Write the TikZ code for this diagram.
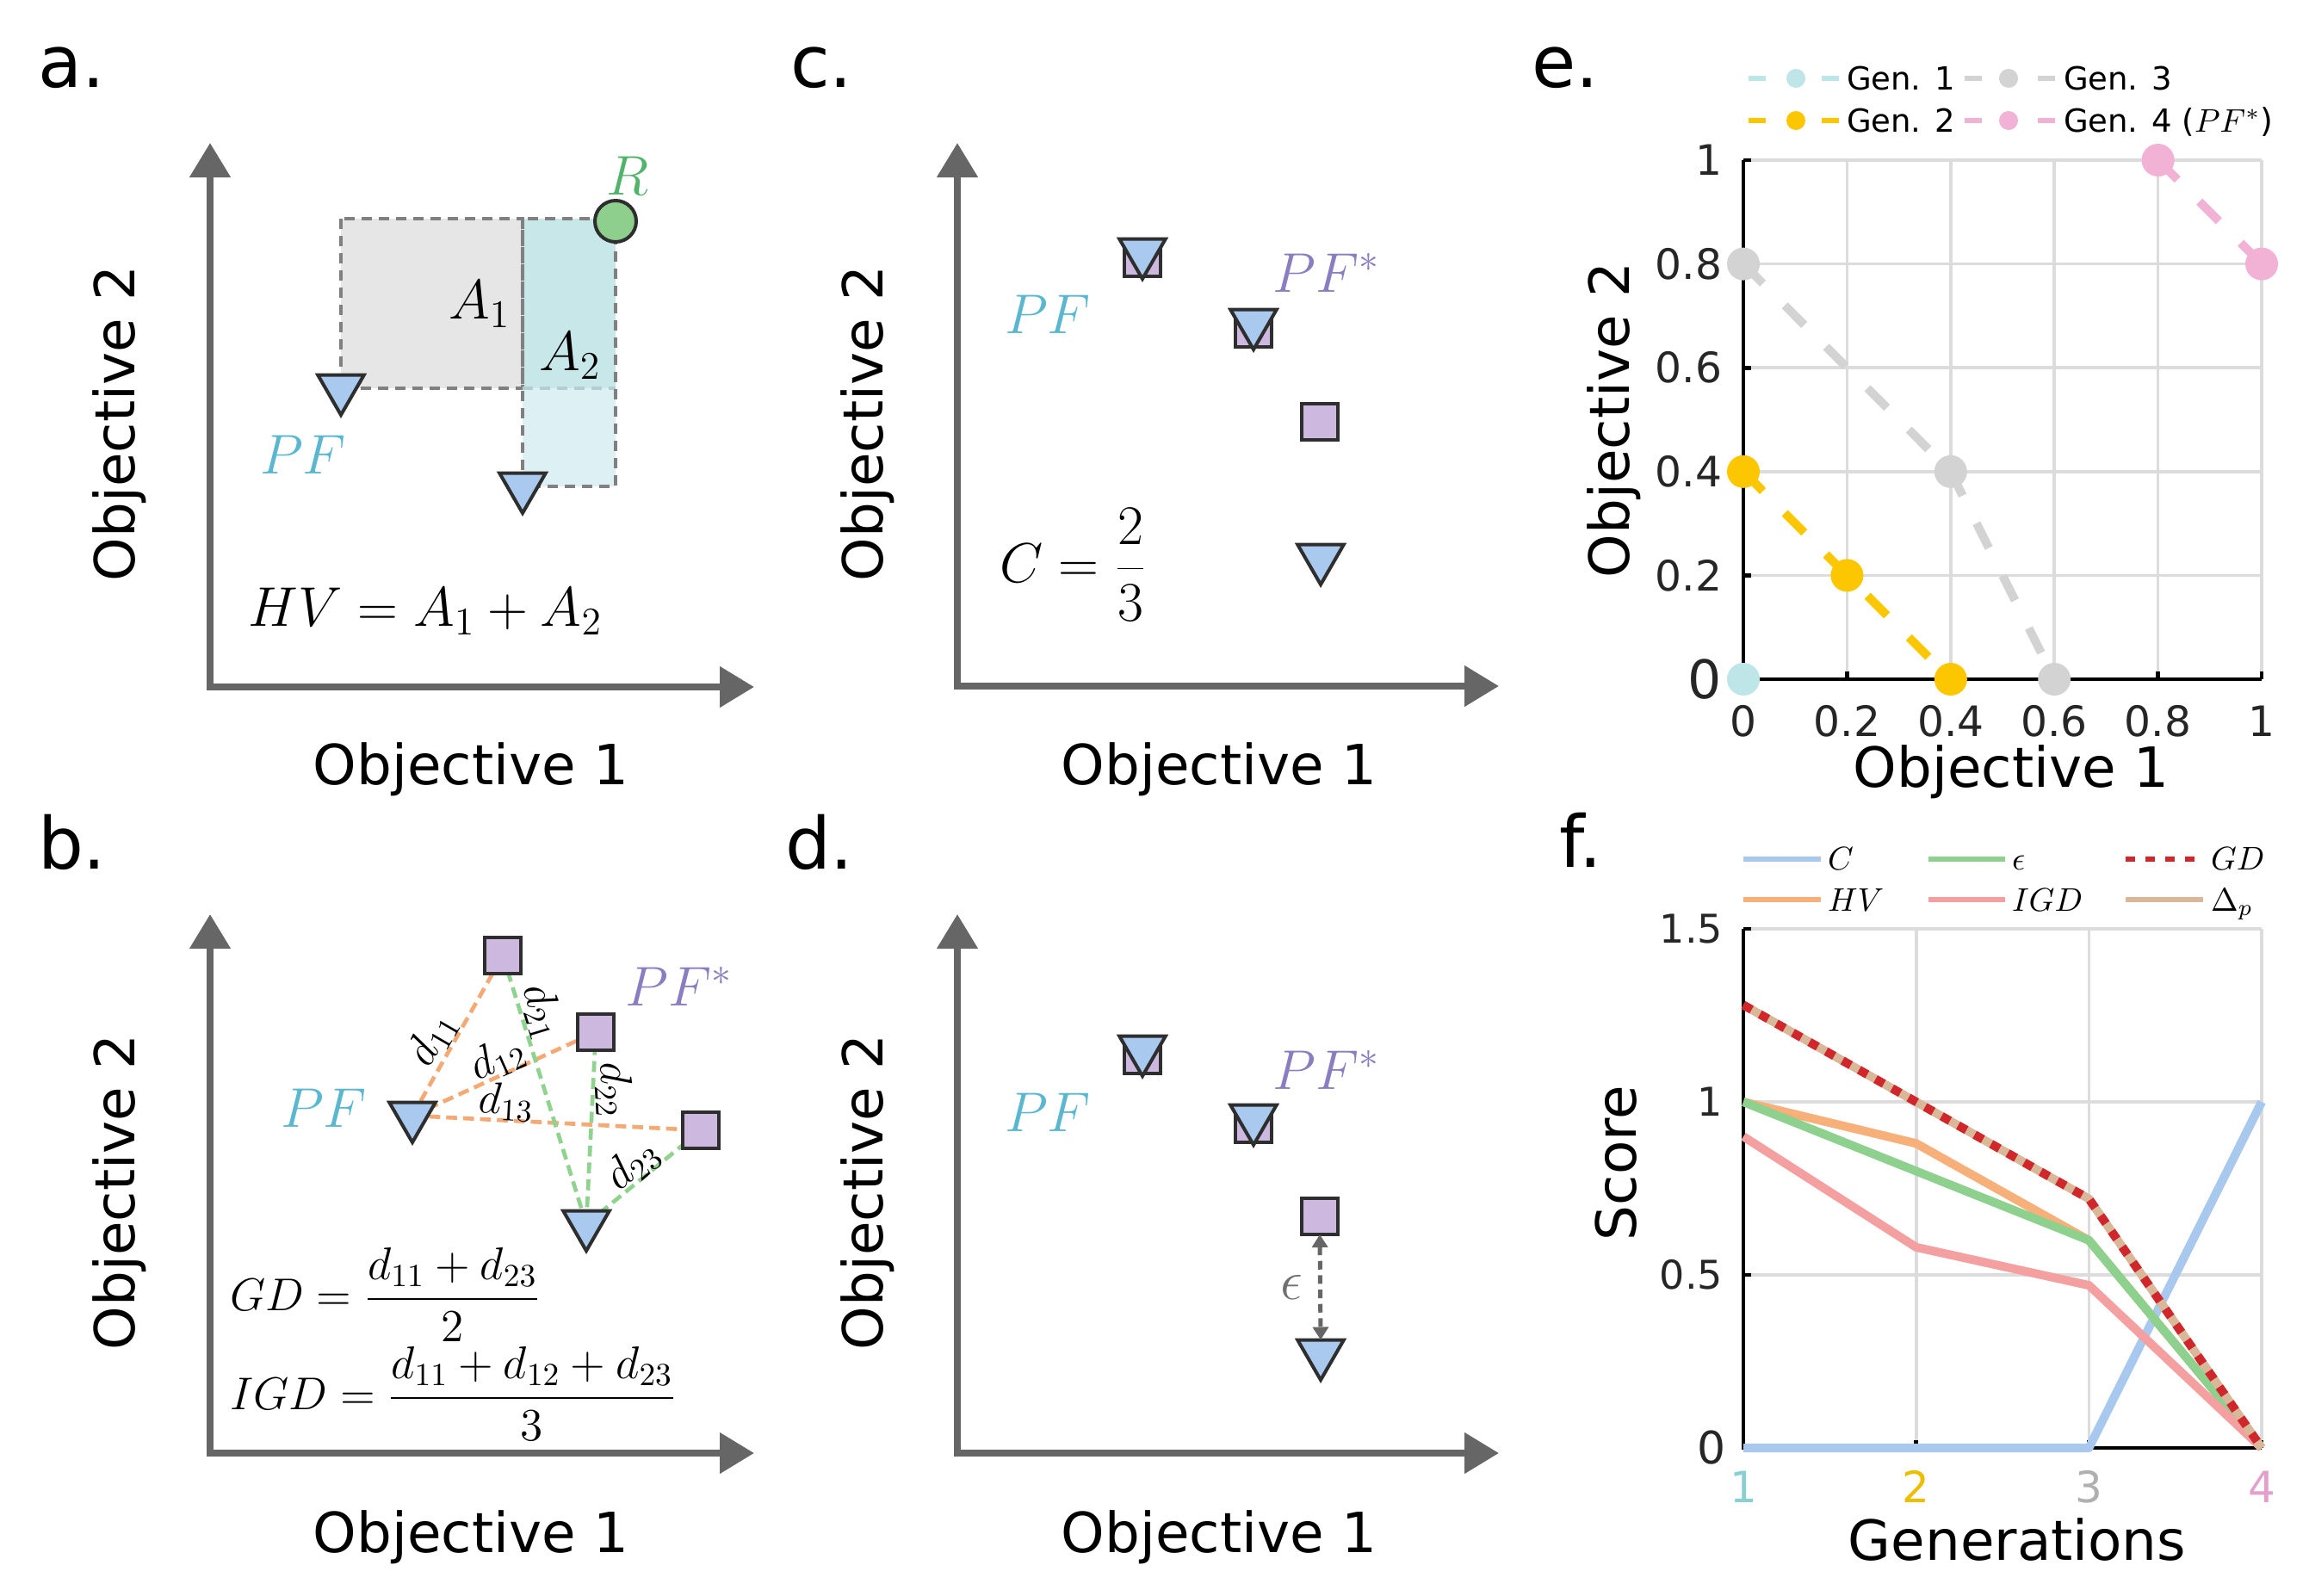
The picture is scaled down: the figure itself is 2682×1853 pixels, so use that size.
\RequirePackage{fix-cm}
\documentclass[tikz,border=0pt]{standalone}
\usepackage{fontspec}
\newfontfamily\dejavu{DejaVu Sans}
\usetikzlibrary{arrows.meta,shapes.geometric}
\definecolor{axgray}{HTML}{666666}
\definecolor{trifill}{HTML}{A9CAEE}
\definecolor{sqfill}{HTML}{CDB9E0}
\definecolor{mkedge}{HTML}{2E2E2E}
\definecolor{pfcyan}{HTML}{5BB7CF}
\definecolor{pfpurple}{HTML}{8A7DC0}
\definecolor{rgreen}{HTML}{52B36B}
\definecolor{rfill}{HTML}{8ECF8E}
\definecolor{rgray}{HTML}{E6E6E6}
\definecolor{tealA}{HTML}{C8E7E9}
\definecolor{tealB}{HTML}{DDF0F3}
\definecolor{dashgray}{HTML}{808080}
\definecolor{dashlight}{HTML}{B5CDD0}
\definecolor{bor}{HTML}{F5AA75}
\definecolor{bgr}{HTML}{8FD38F}
\definecolor{epsgray}{HTML}{707070}
\definecolor{gridc}{HTML}{DCDCDC}
\definecolor{genA}{HTML}{BEE5E8}
\definecolor{genB}{HTML}{FCC700}
\definecolor{genC}{HTML}{D3D3D3}
\definecolor{genD}{HTML}{F2B2D5}
\definecolor{fC}{HTML}{A8C8EE}
\definecolor{fHV}{HTML}{F7B07A}
\definecolor{fEps}{HTML}{8ED08E}
\definecolor{fIGD}{HTML}{F4A0A0}
\definecolor{fGD}{HTML}{D0272C}
\definecolor{fDp}{HTML}{D8B898}
\definecolor{ticktxt}{HTML}{262626}
\definecolor{tkA}{HTML}{8CCFD2}
\definecolor{tkB}{HTML}{EDBE00}
\definecolor{tkC}{HTML}{B0B0B0}
\definecolor{tkD}{HTML}{E3A0CB}
\newcommand\fpanel{\dejavu\fontsize{25}{30}\selectfont}
\newcommand\faxis{\dejavu\fontsize{19.3}{23}\selectfont}
\newcommand\fmathsz{\fontsize{19.5}{23}\selectfont}
\newcommand\fdlab{\fontsize{15.5}{19}\selectfont}
\newcommand\fform{\fontsize{16}{19}\selectfont}
\newcommand\ftick{\dejavu\fontsize{14.6}{17}\selectfont}
\newcommand\ftickf{\dejavu\fontsize{13.8}{16}\selectfont}
\newcommand\fleg{\dejavu\fontsize{11.1}{13}\selectfont}
\newcommand\flegm{\fontsize{11.4}{13}\selectfont}
\begin{document}
\begin{tikzpicture}[x=0.3pt,y=-0.3pt,
  every node/.style={inner sep=0pt, outer sep=0pt},
  axisln/.style={draw=axgray, line width=2.4pt, line cap=rect, -{Triangle[width=13.8pt,length=12pt]}},
  trimk/.style={regular polygon, regular polygon sides=3, shape border rotate=180, minimum size=18.6pt, fill=trifill, draw=mkedge, line width=1.2pt},
  sqmk/.style={rectangle, minimum size=12.6pt, fill=sqfill, draw=mkedge, line width=1.2pt},
  pflab/.style={text=pfcyan, font=\fmathsz},
  pfslab/.style={text=pfpurple, font=\fmathsz},
  dashbox/.style={draw=dashgray, line width=1.2pt, dash pattern=on 3.6pt off 2.4pt},
  bline/.style={line width=1.4pt, dash pattern=on 3.8pt off 2.1pt},
  gridln/.style={draw=gridc, line width=1.1pt},
  blkax/.style={draw=black, line width=1.4pt},
  eline/.style={line width=3pt, dash pattern=on 9.6pt off 10.8pt},
  emk/.style={circle, minimum size=11.4pt},
  fline/.style={line width=3pt, line join=round},
  ticklab/.style={font=\ftick, text=ticktxt},
  ticklabf/.style={font=\ftickf, text=ticktxt},
  legdash/.style={line width=1.8pt},
  legmk/.style={circle, minimum size=6.6pt},
  legline/.style={line width=2pt}
]
\useasboundingbox (0,0) rectangle (2682,1853);
\fill[white] (0,0) rectangle (2682,1853);

%% ---------------- panel a ----------------
\node[font=\fpanel, anchor=base west] (a-lab) at (44,101) {a.};
\coordinate (a-o) at (244,798);
\coordinate (a-y) at (244,166);
\coordinate (a-x) at (876,798);
\fill[rgray] (396,254) rectangle (607,451);
\fill[tealA] (607,254) rectangle (715,451);
\fill[tealB] (607,451) rectangle (715,565);
\draw[dashbox] (396,254) rectangle (607,451);
\draw[dashbox, draw=dashlight] (607,451) -- (715,451);
\draw[dashbox] (607,254) rectangle (715,565);
\draw[axisln] (a-o) -- (a-y);
\draw[axisln] (a-o) -- (a-x);
\node[font=\faxis, rotate=90] (a-yl) at (139,492) {Objective 2};
\node[font=\faxis] (a-xl) at (547,894) {Objective 1};
\node[trimk] (a-t1) at (396,451) {};
\node[trimk] (a-t2) at (607,565) {};
\node[circle, minimum size=14.4pt, fill=rfill, draw=mkedge, line width=1.2pt] (a-r) at (715,257) {};
\node[text=rgreen, font=\fmathsz] (a-rl) at (729,204) {$R$};
\node[font=\fmathsz] (a-a1) at (557,353) {$A_1$};
\node[font=\fmathsz] (a-a2) at (662,413) {$A_2$};
\node[pflab] (a-pf) at (352,528) {$PF$};
\node[font=\fmathsz] (a-hv) at (494,710) {$HV = A_1 + A_2$};

%% ---------------- panel b ----------------
\node[font=\fpanel, anchor=base west] (b-lab) at (44,1009) {b.};
\coordinate (b-o) at (244,1688);
\coordinate (b-y) at (244,1062);
\coordinate (b-x) at (876,1688);
\draw[axisln] (b-o) -- (b-y);
\draw[axisln] (b-o) -- (b-x);
\node[font=\faxis, rotate=90] (b-yl) at (139,1385) {Objective 2};
\node[font=\faxis] (b-xl) at (547,1786) {Objective 1};
\coordinate (b-c1) at (584,1110);
\coordinate (b-c2) at (692,1199);
\coordinate (b-c3) at (814,1313);
\coordinate (b-p1) at (479,1296);
\coordinate (b-p2) at (681,1422);
\draw[bline, draw=bor] (b-p1) -- (b-c1);
\draw[bline, draw=bor] (b-p1) -- (b-c2);
\draw[bline, draw=bor] (b-p1) -- (b-c3);
\draw[bline, draw=bgr] (b-p2) -- (b-c1);
\draw[bline, draw=bgr] (b-p2) -- (b-c2);
\draw[bline, draw=bgr] (b-p2) -- (b-c3);
\node[sqmk] (b-s1) at (b-c1) {};
\node[sqmk] (b-s2) at (b-c2) {};
\node[sqmk] (b-s3) at (b-c3) {};
\node[trimk] (b-t1) at (b-p1) {};
\node[trimk] (b-t2) at (b-p2) {};
\node[font=\fdlab, rotate=60] (b-d11) at (502,1207) {$d_{11}$};
\node[font=\fdlab, rotate=24] (b-d12) at (578,1230) {$d_{12}$};
\node[font=\fdlab, rotate=-3] (b-d13) at (588,1280) {$d_{13}$};
\node[font=\fdlab, rotate=-73] (b-d21) at (630,1175) {$d_{21}$};
\node[font=\fdlab, rotate=-87] (b-d22) at (713,1266) {$d_{22}$};
\node[font=\fdlab, rotate=40] (b-d23) at (735,1353) {$d_{23}$};
\node[pflab] (b-pf) at (376,1287) {$PF$};
\node[pfslab] (b-pfs) at (789,1146) {$PF^*$};
\node[font=\fform, anchor=west] (b-gd) at (267,1504) {$\displaystyle GD = \frac{d_{11}+d_{23}}{2}$};
\node[font=\fform, anchor=west] (b-igd) at (267,1619) {$\displaystyle IGD = \frac{d_{11}+d_{12}+d_{23}}{3}$};

%% ---------------- panel c ----------------
\node[font=\fpanel, anchor=base west] (c-lab) at (918,101) {c.};
\coordinate (c-o) at (1112,797);
\coordinate (c-y) at (1112,166);
\coordinate (c-x) at (1741,797);
\draw[axisln] (c-o) -- (c-y);
\draw[axisln] (c-o) -- (c-x);
\node[font=\faxis, rotate=90] (c-yl) at (1008,492) {Objective 2};
\node[font=\faxis] (c-xl) at (1416,894) {Objective 1};
\node[sqmk] (c-s1) at (1327,300) {};
\node[sqmk] (c-s2) at (1456,382) {};
\node[sqmk] (c-s3) at (1533,490) {};
\node[trimk] (c-t1) at (1327,293) {};
\node[trimk] (c-t2) at (1456,375) {};
\node[trimk] (c-t3) at (1534,648) {};
\node[pflab] (c-pf) at (1217,365) {$PF$};
\node[pfslab] (c-pfs) at (1541,317) {$PF^*$};
\node[font=\fmathsz, anchor=west] (c-cf) at (1161,656) {$\displaystyle C = \frac{2}{3}$};

%% ---------------- panel d ----------------
\node[font=\fpanel, anchor=base west] (d-lab) at (912,1009) {d.};
\coordinate (d-o) at (1112,1688);
\coordinate (d-y) at (1112,1062);
\coordinate (d-x) at (1741,1688);
\draw[axisln] (d-o) -- (d-y);
\draw[axisln] (d-o) -- (d-x);
\node[font=\faxis, rotate=90] (d-yl) at (1008,1385) {Objective 2};
\node[font=\faxis] (d-xl) at (1416,1786) {Objective 1};
\node[sqmk] (d-s1) at (1327,1226) {};
\node[sqmk] (d-s2) at (1456,1306) {};
\node[sqmk] (d-s3) at (1533,1413) {};
\node[trimk] (d-t1) at (1327,1219) {};
\node[trimk] (d-t2) at (1456,1299) {};
\node[trimk] (d-t3) at (1534,1572) {};
\draw[draw=axgray, line width=1.5pt, dash pattern=on 3pt off 2pt,
  {Triangle[width=5.4pt,length=4.5pt]}-{Triangle[width=5.4pt,length=4.5pt]}] (d-s3.south) -- (d-t3.north);
\node[text=epsgray, font=\fmathsz] (d-eps) at (1500,1495) {$\epsilon$};
\node[pflab] (d-pf) at (1217,1292) {$PF$};
\node[pfslab] (d-pfs) at (1541,1243) {$PF^*$};

%% ---------------- panel e ----------------
\node[font=\fpanel, anchor=base west] (e-lab) at (1779,101) {e.};
\node[font=\faxis, rotate=90] (e-yl) at (1875,488) {Objective 2};
\node[font=\faxis] (e-xl) at (2336,897) {Objective 1};
% legend
\draw[legdash, draw=genA] (2031,91) -- (2051,91);
\draw[legdash, draw=genA] (2116,91) -- (2136,91);
\node[legmk, fill=genA] (e-l1) at (2086,91) {};
\node[font=\fleg, anchor=base west] (e-l1t) at (2145,104) {Gen. 1};
\draw[legdash, draw=genC] (2282,91) -- (2302,91);
\draw[legdash, draw=genC] (2367,91) -- (2387,91);
\node[legmk, fill=genC] (e-l3) at (2333,91) {};
\node[font=\fleg, anchor=base west] (e-l3t) at (2397,104) {Gen. 3};
\draw[legdash, draw=genB] (2031,140) -- (2051,140);
\draw[legdash, draw=genB] (2116,140) -- (2136,140);
\node[legmk, fill=genB] (e-l2) at (2086,140) {};
\node[font=\fleg, anchor=base west] (e-l2t) at (2145,153) {Gen. 2};
\draw[legdash, draw=genD] (2282,140) -- (2302,140);
\draw[legdash, draw=genD] (2367,140) -- (2387,140);
\node[legmk, fill=genD] (e-l4) at (2333,140) {};
\node[font=\fleg, anchor=base west] (e-l4t) at (2397,153) {Gen. 4 (\flegm$PF^*$)};
\begin{scope}[shift={(2025,789)}, x=180.6pt, y=180.9pt]
  \foreach \v in {0.2,0.4,0.6,0.8,1} {
    \draw[gridln] (\v,0) -- (\v,1);
    \draw[gridln] (0,\v) -- (1,\v);
  }
  \draw[blkax] (0,1) -- (0,0) -- (1,0);
  \foreach \v in {0.2,0.4,0.6,0.8,1} {
    \draw[blkax] (\v,0) -- ++(0pt,2.6pt);
    \draw[blkax] (0,\v) -- ++(2.6pt,0pt);
  }
  \foreach \v/\t in {0.2/0.2,0.4/0.4,0.6/0.6,0.8/0.8,1/1}
    \node[ticklab, anchor=east] at ([xshift=-7.5pt]0,\v) {\t};
  \node[ticklab, anchor=east, font=\dejavu\fontsize{18.5}{22}\selectfont] at ([xshift=-7.5pt]0,0) {0};
  \foreach \v/\t in {0/0,0.2/0.2,0.4/0.4,0.6/0.6,0.8/0.8,1/1}
    \node[ticklab] at ([yshift=-14.7pt]\v,0) {\t};
  \draw[eline, draw=genC] (0,0.8) -- (0.4,0.4) -- (0.6,0);
  \draw[eline, draw=genB] (0,0.4) -- (0.2,0.2) -- (0.4,0);
  \draw[eline, draw=genD] (0.8,1) -- (1,0.8);
  \node[emk, fill=genC] (e-3a) at (0,0.8) {};
  \node[emk, fill=genC] (e-3b) at (0.4,0.4) {};
  \node[emk, fill=genC] (e-3c) at (0.6,0) {};
  \node[emk, fill=genB] (e-2a) at (0,0.4) {};
  \node[emk, fill=genB] (e-2b) at (0.2,0.2) {};
  \node[emk, fill=genB] (e-2c) at (0.4,0) {};
  \node[emk, fill=genA] (e-1a) at (0,0) {};
  \node[emk, fill=genD] (e-4a) at (0.8,1) {};
  \node[emk, fill=genD] (e-4b) at (1,0.8) {};
\end{scope}

%% ---------------- panel f ----------------
\node[font=\fpanel, anchor=base west] (f-lab) at (1811,1007) {f.};
\node[font=\faxis, rotate=90] (f-yl) at (1877,1351) {Score};
\node[font=\faxis] (f-xl) at (2343,1788) {Generations};
% legend
\draw[legline, draw=fC] (2025,998) -- (2115,998);
\node[font=\flegm, anchor=base west] (f-lC) at (2123,1010) {$C$};
\draw[legline, draw=fEps] (2240,998) -- (2329,998);
\node[font=\flegm, anchor=base west] (f-lE) at (2337,1010) {$\epsilon$};
\draw[legline, draw=fGD, dash pattern=on 3.3pt off 3.6pt] (2469,998) -- (2552,998);
\node[font=\flegm, anchor=base west] (f-lG) at (2568,1010) {$GD$};
\draw[legline, draw=fHV] (2025,1045) -- (2115,1045);
\node[font=\flegm, anchor=base west] (f-lH) at (2123,1058) {$HV$};
\draw[legline, draw=fIGD] (2240,1045) -- (2329,1045);
\node[font=\flegm, anchor=base west] (f-lI) at (2337,1058) {$IGD$};
\draw[legline, draw=fDp] (2469,1045) -- (2559,1045);
\node[font=\flegm, anchor=base west] (f-lD) at (2568,1058) {$\Delta_p$};
\begin{scope}[shift={(2025,1682)}, x=60.2pt, y=120.6pt]
  \foreach \g in {1,2,3} \draw[gridln] (\g,0) -- (\g,1.5);
  \foreach \v in {0.5,1,1.5} \draw[gridln] (0,\v) -- (3,\v);
  \draw[blkax] (0,1.5) -- (0,0) -- (3,0);
  \foreach \g in {1,2,3} \draw[blkax] (\g,0) -- ++(0pt,2.6pt);
  \foreach \v in {0.5,1,1.5} \draw[blkax] (0,\v) -- ++(2.6pt,0pt);
  \foreach \v/\t in {0.5/0.5,1/1,1.5/1.5}
    \node[ticklabf, anchor=east] at ([xshift=-7.2pt]0,\v) {\t};
  \node[ticklabf, anchor=east, font=\dejavu\fontsize{15.6}{18}\selectfont] at ([xshift=-6pt]0,0) {0};
  \node[ticklab, font=\dejavu\fontsize{15}{18}\selectfont, text=tkA] at ([yshift=-13.5pt]0,0) {1};
  \node[ticklab, font=\dejavu\fontsize{15}{18}\selectfont, text=tkB] at ([yshift=-13.5pt]1,0) {2};
  \node[ticklab, font=\dejavu\fontsize{15}{18}\selectfont, text=tkC] at ([yshift=-13.5pt]2,0) {3};
  \node[ticklab, font=\dejavu\fontsize{15}{18}\selectfont, text=tkD] at ([yshift=-13.5pt]3,0) {4};
  \draw[fline, draw=fC] (0,0) -- (1,0) -- (2,0) -- (3,1);
  \draw[fline, draw=fHV] (0,1) -- (1,0.88) -- (2,0.6) -- (3,0);
  \draw[fline, draw=fEps] (0,1) -- (1,0.8) -- (2,0.6) -- (3,0);
  \draw[fline, draw=fIGD] (0,0.9) -- (1,0.58) -- (2,0.47) -- (3,0);
  \draw[fline, draw=fDp] (0,1.28) -- (1,1.0) -- (2,0.72) -- (3,0);
  \draw[fline, draw=fGD, dash pattern=on 3.3pt off 3.3pt] (0,1.28) -- (1,1.0) -- (2,0.72) -- (3,0);
\end{scope}
\end{tikzpicture}
\end{document}
